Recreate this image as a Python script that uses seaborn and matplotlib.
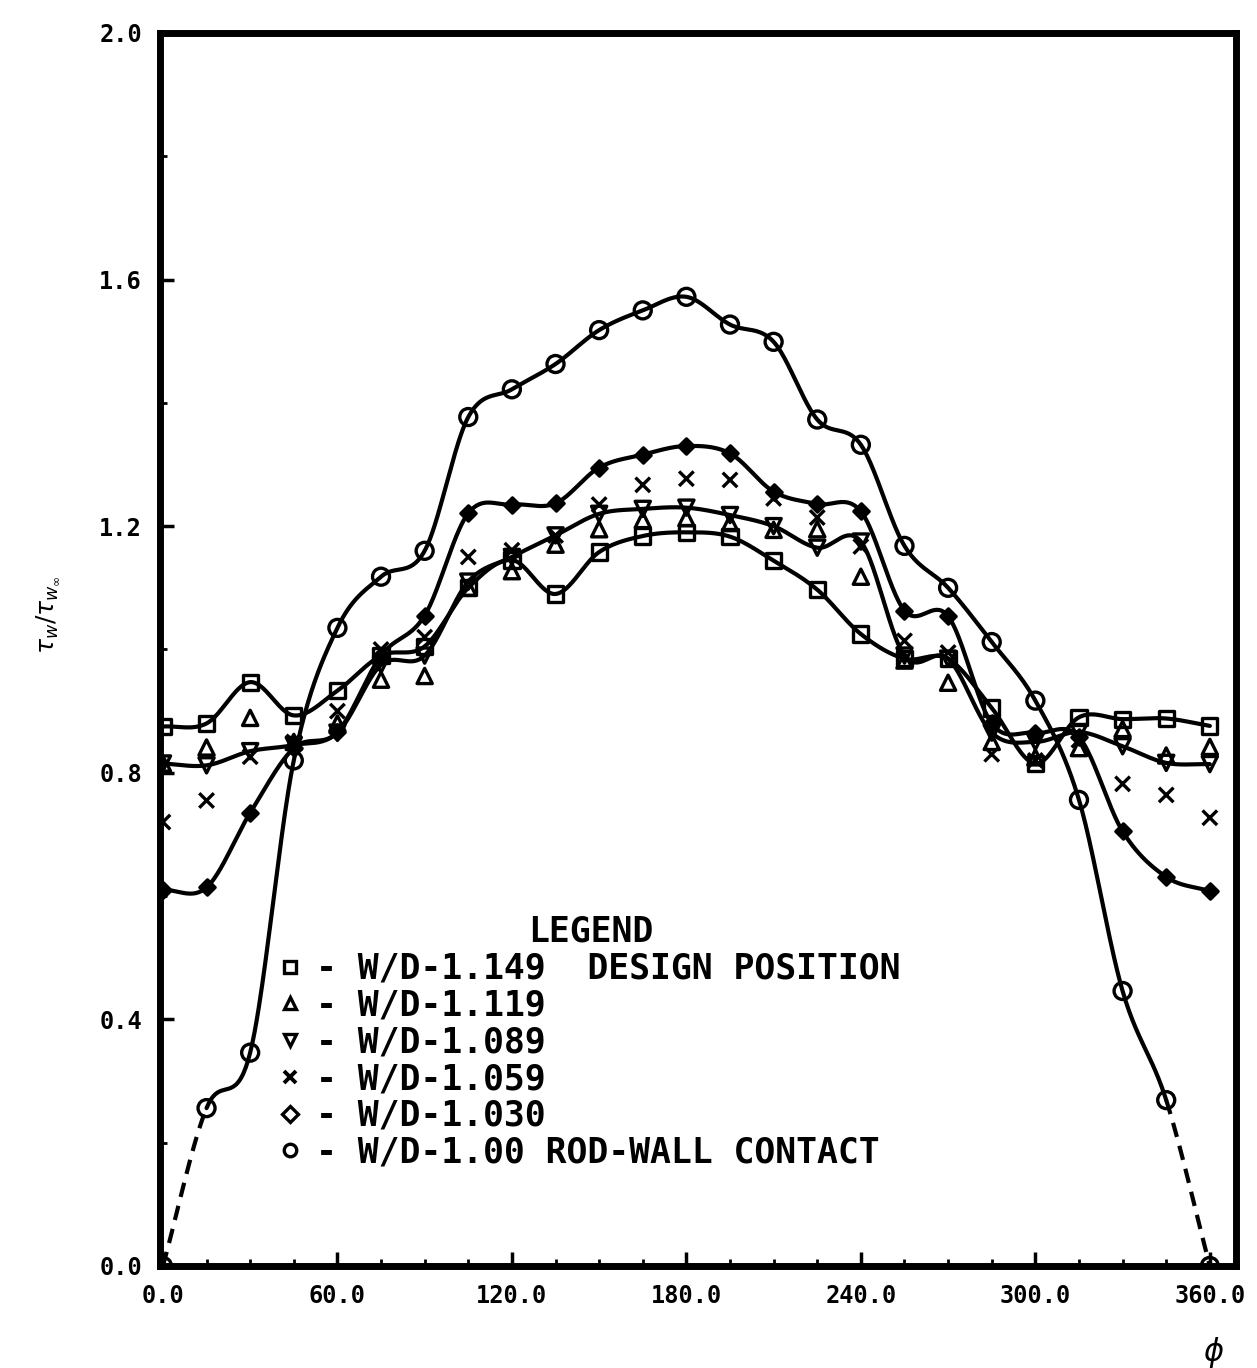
import numpy as np
import matplotlib
matplotlib.use("Agg")
import matplotlib.pyplot as plt
import seaborn as sns
from matplotlib.lines import Line2D

# Circumferential angle (degrees)
phi = [0, 15, 30, 45, 60, 75, 90, 105, 120, 135, 150, 165, 180,
       195, 210, 225, 240, 255, 270, 285, 300, 315, 330, 345, 360]

# Wall shear stress ratio tau_w / tau_w,inf for each wall-distance ratio W/D
wd_1149 = [0.875, 0.880, 0.947, 0.893, 0.933, 0.990, 1.005, 1.100, 1.145, 1.090,
           1.158, 1.184, 1.190, 1.183, 1.144, 1.097, 1.025, 0.985, 0.985, 0.905,
           0.815, 0.890, 0.887, 0.888, 0.876]
wd_1119 = [0.815, 0.841, 0.889, 0.850, 0.880, 0.951, 0.957, 1.100, 1.127, 1.170,
           1.195, 1.210, 1.213, 1.205, 1.194, 1.195, 1.118, 0.982, 0.946, 0.850,
           0.825, 0.840, 0.871, 0.828, 0.842]
wd_1089 = [0.815, 0.812, 0.835, 0.845, 0.865, 0.975, 0.990, 1.110, 1.150, 1.185,
           1.220, 1.228, 1.230, 1.218, 1.200, 1.165, 1.175, 0.990, 0.985, 0.865,
           0.850, 0.866, 0.843, 0.816, 0.814]
wd_1059 = [0.720, 0.755, 0.826, 0.850, 0.900, 1.000, 1.020, 1.150, 1.161, 1.185,
           1.235, 1.267, 1.277, 1.275, 1.245, 1.214, 1.167, 1.014, 0.995, 0.830,
           0.820, 0.853, 0.782, 0.764, 0.727]
wd_1030 = [0.610, 0.614, 0.735, 0.840, 0.866, 0.990, 1.055, 1.221, 1.235, 1.237,
           1.295, 1.316, 1.330, 1.318, 1.256, 1.236, 1.224, 1.063, 1.054, 0.880,
           0.865, 0.858, 0.705, 0.631, 0.608]
wd_1000 = [0.000, 0.256, 0.346, 0.820, 1.035, 1.118, 1.160, 1.377, 1.422, 1.463,
           1.518, 1.550, 1.572, 1.527, 1.499, 1.373, 1.332, 1.168, 1.100, 1.012,
           0.917, 0.756, 0.446, 0.269, 0.000]

legend_labels = ["- W/D-1.149  DESIGN POSITION", "- W/D-1.119", "- W/D-1.089",
                 "- W/D-1.059", "- W/D-1.030", "- W/D-1.00 ROD-WALL CONTACT"]

x_ticks = [0, 60, 120, 180, 240, 300, 360]
y_ticks = [0.0, 0.4, 0.8, 1.2, 1.6, 2.0]


def smooth_curve(x, y, per=40):
    """Catmull-Rom curve through the measured points (for drawing only)."""
    x = np.asarray(x, float)
    y = np.asarray(y, float)
    ye = np.concatenate([[2 * y[0] - y[1]], y, [2 * y[-1] - y[-2]]])
    xs_all, ys_all = [], []
    t = np.linspace(0, 1, per, endpoint=False)
    for i in range(len(x) - 1):
        p0, p1, p2, p3 = ye[i], ye[i + 1], ye[i + 2], ye[i + 3]
        seg = 0.5 * (2 * p1 + (-p0 + p2) * t + (2 * p0 - 5 * p1 + 4 * p2 - p3) * t ** 2
                     + (-p0 + 3 * p1 - 3 * p2 + p3) * t ** 3)
        xs_all.append(x[i] + (x[i + 1] - x[i]) * t)
        ys_all.append(seg)
    xs_all.append([x[-1]])
    ys_all.append([y[-1]])
    return np.concatenate(xs_all), np.concatenate(ys_all)


sns.set_theme(style="ticks")
plt.rcParams["font.family"] = ["DejaVu Sans Mono", "DejaVu Sans"]
plt.rcParams["mathtext.fontset"] = "dejavusans"

fig = plt.figure(figsize=(12.57, 13.68), dpi=100)
ax = fig.add_axes([0.1273, 0.0746, 0.856, 0.9013])

LW = 3.0

# Smooth curves through the W/D = 1.149, 1.089, 1.030 data
for series in (wd_1149, wd_1089, wd_1030):
    xs, ys = smooth_curve(phi, series)
    sns.lineplot(x=xs, y=ys, ax=ax, color="black", lw=LW, sort=False, estimator=None)

# Rod-wall contact curve: dashed near the contact point at both ends
xs, ys = smooth_curve(phi, wd_1000)
mid = (xs >= 15) & (xs <= 345)
lo = xs <= 15
hi = xs >= 345
sns.lineplot(x=xs[mid], y=ys[mid], ax=ax, color="black", lw=LW, sort=False, estimator=None)
for part in (lo, hi):
    sns.lineplot(x=xs[part], y=ys[part], ax=ax, color="black", lw=LW, sort=False,
                 estimator=None, linestyle=(0, (3.5, 2.2)))

# Data symbols
marker_specs = [
    (wd_1149, "s", 120, "none"),
    (wd_1119, "^", 120, "none"),
    (wd_1089, "v", 120, "none"),
    (wd_1059, "x", 110, "none"),
    (wd_1030, "D", 60, "black"),
    (wd_1000, "o", 150, "none"),
]
for series, mk, size, fc in marker_specs:
    sns.scatterplot(x=phi, y=series, ax=ax, marker=mk, s=size, color="black")
    pts = ax.collections[-1]
    pts.set_facecolor(fc)
    pts.set_edgecolor("black")
    pts.set_linewidth(2.4)
    pts.set_zorder(3)

ax.set_xlim(-1, 369)
ax.set_ylim(0, 2.0)
ax.set_xticks(x_ticks)
ax.set_xticklabels([f"{v:.1f}" for v in x_ticks])
ax.set_xticks(np.arange(0, 361, 15), minor=True)
ax.set_yticks(y_ticks)
ax.set_yticklabels([f"{v:.1f}" for v in y_ticks])
ax.set_yticks(np.arange(0, 2.01, 0.2), minor=True)

ax.tick_params(which="both", direction="in", top=False, right=False, colors="black",
               labelsize=17, pad=13)
ax.tick_params(which="major", length=10, width=2.5)
ax.tick_params(which="minor", length=5, width=2.0)
for lab in ax.get_xticklabels() + ax.get_yticklabels():
    lab.set_fontweight("bold")

for sp in ax.spines.values():
    sp.set_linewidth(5)
    sp.set_color("black")

ax.set_ylabel(r"$\tau_w/\tau_{w_\infty}$", fontsize=18, color="black")
ax.yaxis.set_label_coords(-0.092, 0.528)
ax.set_xlabel(r"$\phi$", fontsize=22, color="black")
ax.xaxis.set_label_coords(0.979, -0.056)

# Legend: symbols only, text in plotter style
handles = [
    Line2D([], [], ls="none", marker="s", mfc="none", mec="black", mew=2.4, ms=9),
    Line2D([], [], ls="none", marker="^", mfc="none", mec="black", mew=2.4, ms=9),
    Line2D([], [], ls="none", marker="v", mfc="none", mec="black", mew=2.4, ms=9),
    Line2D([], [], ls="none", marker="x", mfc="none", mec="black", mew=2.8, ms=9),
    Line2D([], [], ls="none", marker="D", mfc="none", mec="black", mew=2.4, ms=8),
    Line2D([], [], ls="none", marker="o", mfc="none", mec="black", mew=2.4, ms=9),
]
leg = ax.legend(handles, legend_labels, title="LEGEND", loc="upper left",
                bbox_to_anchor=(0.1115, 0.2847), frameon=False, fontsize=25,
                title_fontsize=25, borderpad=0, borderaxespad=0, handlelength=0.6,
                handletextpad=0.45, labelspacing=0.08)
for t in leg.get_texts():
    t.set_color("black")
    t.set_fontweight("bold")
leg.get_title().set_color("black")
leg.get_title().set_fontweight("bold")

fig.savefig("out.png", dpi=100, facecolor="white")
